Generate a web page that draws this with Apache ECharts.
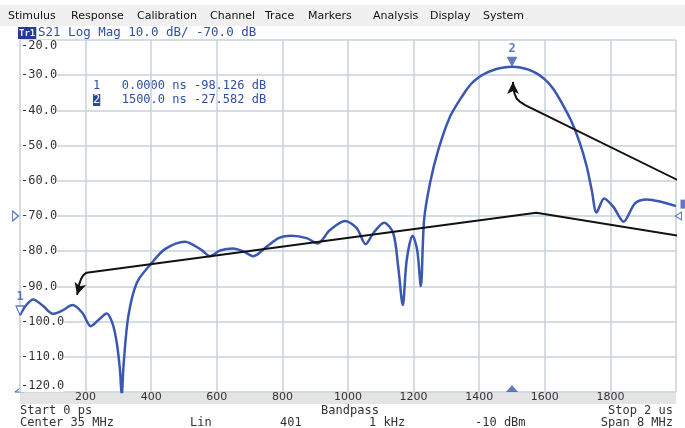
<!DOCTYPE html>
<html><head><meta charset="utf-8">
<script src="https://cdn.jsdelivr.net/npm/echarts@6/dist/echarts.min.js"></script>
<style>html,body{margin:0;padding:0;background:#fff}#c{width:685px;height:428px}</style>
</head><body><div id="c"></div>
<script>
// ---- data ----
const traceNs = [0,20,40,70,100,130,160,190,216,240,264,282,295,305,310,316,330,356,401,442,503,554,579,610,650,680,711,752,790,828,874,907,945,991,1027,1054,1077,1110,1138,1153,1167,1179,1197,1211,1222,1232,1250,1275,1311,1352,1375,1400,1425,1450,1475,1500,1525,1550,1575,1600,1625,1650,1682,1707,1728,1743,1758,1781,1809,1840,1875,1911,1951,2000];
const traceDb = [-98.1,-95.2,-93.7,-95.5,-97.8,-96.8,-95.3,-97.5,-101.3,-99.5,-97.7,-100.5,-106,-114,-121,-112,-98.6,-89,-83.4,-79.4,-77.3,-79.7,-81.4,-79.8,-79.2,-80.0,-81.4,-78.7,-76.2,-75.6,-76.3,-77.8,-74,-71.4,-73.5,-78,-74.9,-71.9,-74.9,-84.4,-95.3,-82.5,-75.6,-79.7,-89.9,-71.1,-60.7,-51.3,-41.8,-35.4,-32.5,-30.5,-29.2,-28.3,-27.8,-27.6,-27.8,-28.4,-29.5,-31.2,-33.8,-37.6,-43.3,-49.3,-56,-62.6,-69,-65,-67.4,-71.6,-66.4,-65.3,-65.9,-67.2];
const markerIds = ['1','2'];
const markerNs = [0, 1500];
const markerDb = [-98.126, -27.582];
const refLevelDb = -70;
const xTickValues = [200,400,600,800,1000,1200,1400,1600,1800];
const annoLine1Ns = [2027,1574,203,193,186,181,178,174];
const annoLine1Db = [-75.9,-69.1,-86.1,-86.8,-87.9,-89.3,-90.7,-92.4];
const annoLine2Ns = [2027,1540,1525,1514,1508,1504,1503];
const annoLine2Db = [-60.8,-38.5,-37.6,-36.6,-35.3,-33.9,-31.9];
const menuItems = ['Stimulus','Response','Calibration','Channel','Trace','Markers','Analysis','Display','System'];
const headerTrace = 'Tr1';
const headerText = 'S21 Log Mag 10.0 dB/ -70.0 dB';
const statusRow1 = ['Start 0 ps','Bandpass','Stop 2 us'];
const statusRow2 = ['Center 35 MHz','Lin','401','1 kHz','-10 dBm','Span 8 MHz'];

// ---- layout / styles ----
const BLUE = '#3a58b0', TXTBLUE = '#2f4ea6', GRID = '#c9d0db', TXT = '#333';
const MONO = '"DejaVu Sans Mono", monospace';
const menuX = [8,71,137,210,265,308,373,430,483];
const row2X = [20,190,280,369,475,673];
const row2Align = ['left','left','left','left','left','right'];

const zip = (a,b) => a.map((v,i)=>[v,b[i]]);
const traceData = zip(traceNs, traceDb);
const a1 = zip(annoLine1Ns, annoLine1Db).map((p,i,arr)=> i===arr.length-1 ? {value:p, symbol:'arrow', symbolSize:[9,12], symbolRotate:164} : {value:p});
const a2 = zip(annoLine2Ns, annoLine2Db).map((p,i,arr)=> i===arr.length-1 ? {value:p, symbol:'arrow', symbolSize:[9,12], symbolRotate:0} : {value:p});

const graphics = [];
graphics.push({type:'rect', shape:{x:0,y:5,width:685,height:21}, style:{fill:'#f0f0f0'}, z:-10});
menuItems.forEach((m,i)=>graphics.push({type:'text', x:menuX[i], y:16, style:{text:m, font:'11px "DejaVu Sans", sans-serif', fill:'#111', verticalAlign:'middle'}}));
graphics.push({type:'text', x:18, y:33, style:{text:'{a|'+headerTrace+'}', rich:{a:{backgroundColor:'#24399a', fill:'#eef1ff', font:'bold 9px '+MONO, padding:[2,1,1,1]}}, verticalAlign:'middle'}});
graphics.push({type:'text', x:38, y:33, style:{text:headerText, font:'12.5px '+MONO, fill:TXTBLUE, verticalAlign:'middle'}});
// marker table
markerIds.forEach((id,i)=>{
  const y = 86 + i*14;
  graphics.push({type:'text', x:93, y:y, style:{text: i===1 ? '{h|'+id+'}' : id, rich:{h:{backgroundColor:'#2a48a6', fill:'#fff', font:'12px '+MONO}}, font:'12px '+MONO, fill:TXTBLUE, verticalAlign:'middle'}});
  const t = markerNs[i].toPrecision(5) + ' ns ' + markerDb[i].toFixed(3) + ' dB';
  graphics.push({type:'text', x:121.7, y:y, style:{text:t, font:'12px '+MONO, fill:TXTBLUE, verticalAlign:'middle'}});
});
// x label band
graphics.push({type:'rect', shape:{x:20,y:392.5,width:656,height:11.5}, style:{fill:'#e4e4e4'}, z:-10});
// status rows
graphics.push({type:'text', x:20, y:411, style:{text:statusRow1[0], font:'12px '+MONO, fill:TXT, verticalAlign:'middle'}});
graphics.push({type:'text', x:350, y:411, style:{text:statusRow1[1], font:'12px '+MONO, fill:TXT, align:'center', verticalAlign:'middle'}});
graphics.push({type:'text', x:673, y:411, style:{text:statusRow1[2], font:'12px '+MONO, fill:TXT, align:'right', verticalAlign:'middle'}});
statusRow2.forEach((s,i)=>graphics.push({type:'text', x:row2X[i], y:423, style:{text:s, font:'12px '+MONO, fill:TXT, align:row2Align[i], verticalAlign:'middle'}}));
// bottom-left scale marker
graphics.push({type:'polyline', shape:{points:[[23,386],[15,392],[24,392]]}, style:{stroke:BLUE, lineWidth:1, fill:null}});

const chart = echarts.init(document.getElementById('c'), null, {renderer:'canvas'});
chart.setOption({
  animation:false,
  backgroundColor:'#fff',
  grid:{left:20, right:9, top:40, bottom:36},
  xAxis:{type:'value', min:0, max:2000, interval:200,
    axisLine:{show:false}, axisTick:{show:false},
    splitLine:{show:true, lineStyle:{color:GRID, width:1.5}},
    axisLabel:{margin:0, lineHeight:11, color:TXT, fontSize:11, fontFamily:'"DejaVu Sans", sans-serif',
      formatter:v=> xTickValues.includes(v) ? String(v) : ''}},
  yAxis:{type:'value', min:-120, max:-20, interval:10,
    axisLine:{show:false}, axisTick:{show:false},
    splitLine:{show:true, lineStyle:{color:GRID, width:1.5}},
    axisLabel:{inside:true, margin:1, color:TXT, fontSize:12, fontFamily:MONO, backgroundColor:'#fff', padding:[0,0,0,0],
      verticalAlignMaxLabel:'top', verticalAlignMinLabel:'bottom',
      formatter:v=>v.toFixed(1)}},
  graphic: graphics,
  series:[
    {type:'line', data:traceData, smooth:0.3, symbol:'none', lineStyle:{color:BLUE, width:2.5}, z:3},
    {type:'line', data:a1, symbol:'none', clip:false, lineStyle:{color:'#111', width:2}, itemStyle:{color:'#111'}, z:4},
    {type:'line', data:a2, symbol:'none', clip:false, lineStyle:{color:'#111', width:2}, itemStyle:{color:'#111'}, z:4},
    {type:'scatter', clip:false, z:5,
      data: markerIds.map((id,i)=>({value:[markerNs[i], markerDb[i]], name:id,
        symbol:'triangle', symbolRotate:180, symbolSize: i===0?[8,9]:[11,10], symbolOffset:[0, i===0?-4.5:-5],
        itemStyle: i===0 ? {color:'#fff', borderColor:BLUE, borderWidth:1.2} : {color:BLUE}})),
      label:{show:true, position:'top', distance:2, color:BLUE, fontSize:12, fontFamily:MONO, fontWeight:'bold', formatter:p=>p.name}},
    {type:'scatter', clip:false, z:5, silent:true,
      data:[
        {value:[markerNs[1], -120], symbol:'triangle', symbolSize:[12,7], symbolOffset:[0,-3.5], itemStyle:{color:BLUE}},
        {value:[0, refLevelDb], symbol:'triangle', symbolRotate:-90, symbolSize:[10,6], symbolOffset:[-4.5,0], itemStyle:{color:'#fff', borderColor:BLUE, borderWidth:1.2}},
        {value:[2000, refLevelDb], symbol:'triangle', symbolRotate:90, symbolSize:[8,6], symbolOffset:[2.5,0], itemStyle:{color:'#fff', borderColor:BLUE, borderWidth:1.2}},
        {value:[2000, traceDb[traceDb.length-1]], symbol:'rect', symbolSize:[5,9], symbolOffset:[7,-2], itemStyle:{color:BLUE}}
      ]}
  ]
});
</script></body></html>
